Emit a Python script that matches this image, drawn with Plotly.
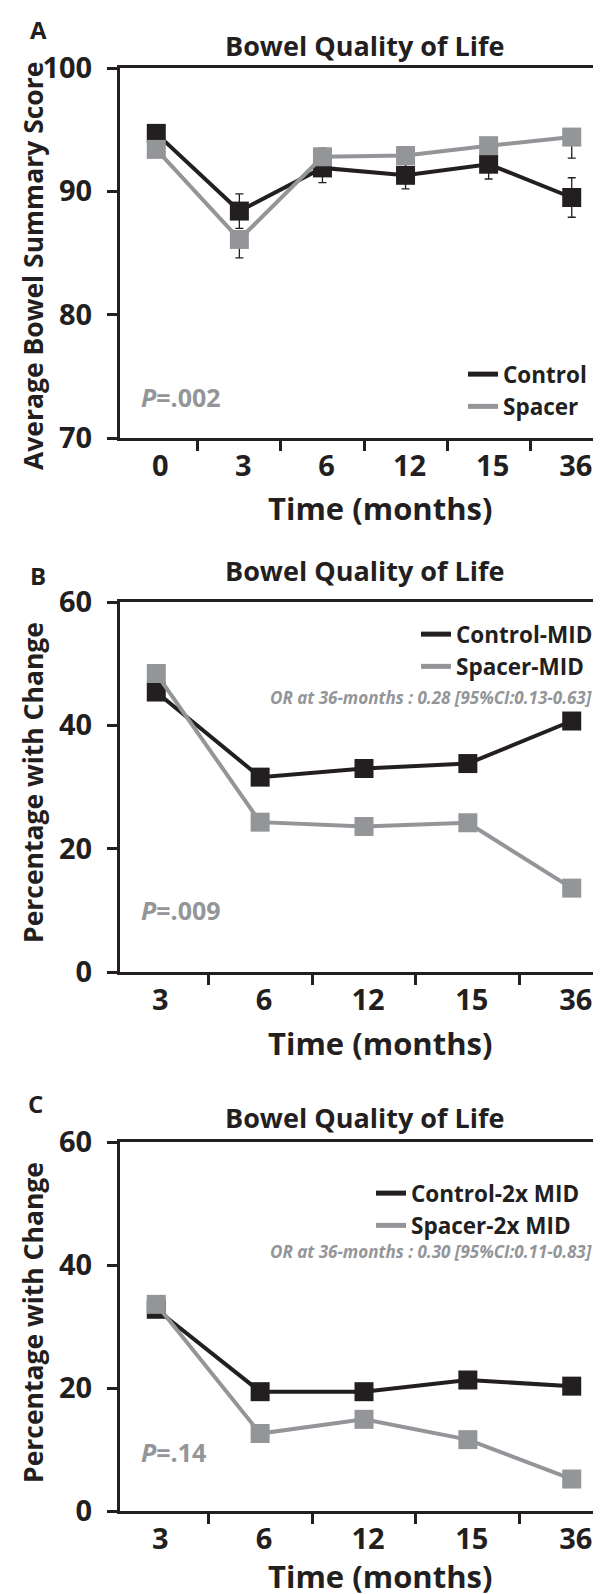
import plotly.graph_objects as go

# ---------------- data ----------------
months_a = ["0", "3", "6", "12", "15", "36"]
control_a = [94.7, 88.4, 91.9, 91.3, 92.2, 89.5]
control_a_err = [0.6, 1.4, 1.2, 1.1, 1.2, 1.6]
spacer_a = [93.4, 86.1, 92.8, 92.9, 93.7, 94.4]
spacer_a_err_up = [0.6, 0.6, 0.7, 0.7, 0.6, 0.6]
spacer_a_err_down = [0.6, 1.5, 0.7, 0.7, 0.6, 1.7]

months_bc = ["3", "6", "12", "15", "36"]
control_mid = [45.4, 31.6, 33.0, 33.8, 40.7]
spacer_mid = [48.4, 24.3, 23.6, 24.2, 13.6]
control_2x = [32.8, 19.4, 19.4, 21.3, 20.3]
spacer_2x = [33.6, 12.6, 14.9, 11.6, 5.2]

yticks_a = [70, 80, 90, 100]
yticks_bc = [0, 20, 40, 60]

# ---------------- style ----------------
W, H = 601, 1594
BLACK = "#231f20"
GREY = "#939598"
FONT = "Open Sans"
ML = 112
PW = W - ML - 1


def py(p):
    return 1 - p / H


def px(p):
    return (p - ML) / PW


fig = go.Figure()

panels = [
    ("x", "y", "legend", (60, 430)),
    ("x2", "y2", "legend2", (594, 964)),
    ("x3", "y3", "legend3", (1134, 1503)),
]


def add_series(xa, ya, leg, cats, vals, color, name, err=None, errminus=None):
    ey = None
    if err is not None:
        ey = dict(type="data", array=err, arrayminus=errminus if errminus else err,
                  symmetric=errminus is None, visible=True, color=BLACK,
                  thickness=1.3, width=4)
    fig.add_trace(go.Scatter(
        x=cats, y=vals, mode="lines+markers", xaxis=xa, yaxis=ya,
        line=dict(color=color, width=4),
        marker=dict(symbol="square", size=19, color=color, line=dict(width=0)),
        error_y=ey, showlegend=False, cliponaxis=False,
    ))
    fig.add_trace(go.Scatter(
        x=[None], y=[None], mode="lines", xaxis=xa, yaxis=ya,
        line=dict(color=color, width=5), name=name, legend=leg,
        showlegend=True,
    ))


add_series("x", "y", "legend", months_a, control_a, BLACK, "Control", control_a_err)
add_series("x", "y", "legend", months_a, spacer_a, GREY, "Spacer", spacer_a_err_up, spacer_a_err_down)
add_series("x2", "y2", "legend2", months_bc, control_mid, BLACK, "Control-MID")
add_series("x2", "y2", "legend2", months_bc, spacer_mid, GREY, "Spacer-MID")
add_series("x3", "y3", "legend3", months_bc, control_2x, BLACK, "Control-2x MID")
add_series("x3", "y3", "legend3", months_bc, spacer_2x, GREY, "Spacer-2x MID")

tickfont = dict(family=FONT, size=29, color=BLACK, weight="bold")

layout = dict(
    width=W, height=H,
    margin=dict(l=ML, r=1, t=0, b=0, autoexpand=False),
    paper_bgcolor="white", plot_bgcolor="white",
    font=dict(family=FONT, color=BLACK),
)

ranges = [(70, 100, yticks_a), (0, 60, yticks_bc), (0, 60, yticks_bc)]
for i, (xa, ya, leg, (top, bot)) in enumerate(panels):
    sfx = "" if i == 0 else str(i + 1)
    lo, hi, tv = ranges[i]
    layout["xaxis" + sfx] = dict(
        domain=[0, 1], anchor=ya, type="category", automargin=False,
        showline=True, linewidth=3, linecolor=BLACK, mirror=True,
        ticks="outside", ticklen=10, tickwidth=3, tickcolor=BLACK,
        tickson="boundaries", showgrid=False, zeroline=False,
        tickfont=tickfont, ticklabelstandoff=0, ticklabelshift=4,
    )
    layout["yaxis" + sfx] = dict(
        domain=[py(bot), py(top)], anchor=xa, range=[lo, hi], automargin=False,
        tickvals=tv, showline=True, linewidth=3, linecolor=BLACK,
        ticks="outside", ticklen=10, tickwidth=3, tickcolor=BLACK,
        showgrid=False, zeroline=False, tickfont=tickfont,
        ticklabelstandoff=9,
    )

legfont = dict(family=FONT, size=22.5, color=BLACK, weight="bold")
layout["legend"] = dict(x=px(455), y=py(345), xanchor="left", yanchor="top",
                        font=legfont, bgcolor="rgba(0,0,0,0)", itemwidth=30)
layout["legend2"] = dict(x=px(408), y=py(605), xanchor="left", yanchor="top",
                         font=legfont, bgcolor="rgba(0,0,0,0)", itemwidth=30)
layout["legend3"] = dict(x=px(363), y=py(1164), xanchor="left", yanchor="top",
                         font=legfont, bgcolor="rgba(0,0,0,0)", itemwidth=30)

fig.update_layout(**layout)

ann = []
shapes = []
letters = [("A", 30, 22), ("B", 30, 567), ("C", 27, 1095)]
titles_y = [37, 562, 1109]
ytitles = [("Average Bowel Summary Score", 258), ("Percentage with Change", 775),
           ("Percentage with Change", 1315)]
xtitles_y = [500, 1035, 1568]
ptexts = [("<i>P</i>=.002", 389), ("<i>P</i>=.009", 902), ("<i>P</i>=.14", 1444)]
ortexts = [None, ("OR at 36-months : 0.28 [95%CI:0.13-0.63]", 689),
           ("OR at 36-months : 0.30 [95%CI:0.11-0.83]", 1243)]


def A(text, x, y, size, color=BLACK, xanchor="center", **kw):
    return dict(text=text, x=px(x), y=py(y), xref="paper", yref="paper",
                xanchor=xanchor, yanchor="middle", showarrow=False,
                font=dict(family=FONT, size=size, color=color, weight="bold"), **kw)


for i in range(3):
    L, lx, ly = letters[i]
    ann.append(A(L, lx, ly, 24))
    ann.append(A("Bowel Quality of Life", 356, titles_y[i], 27))
    t, cy = ytitles[i]
    ann.append(A(t, 25, cy, 26.5, textangle=-90))
    ann.append(A("Time (months)", 372, xtitles_y[i], 31))
    pt, pyy = ptexts[i]
    ann.append(A(pt, 131, pyy, 25, color=GREY, xanchor="left"))
    if ortexts[i]:
        ot, oy = ortexts[i]
        ann.append(A("<i>" + ot + "</i>", 586, oy, 17, color=GREY, xanchor="right"))
    top, bot = panels[i][3]
    shapes.append(dict(type="line", xref="paper", yref="paper", x0=1, x1=1,
                       y0=py(bot), y1=py(top), line=dict(color="#7a7a7a", width=1.5)))

fig.update_layout(annotations=ann, shapes=shapes)
fig.write_html("out.html")
